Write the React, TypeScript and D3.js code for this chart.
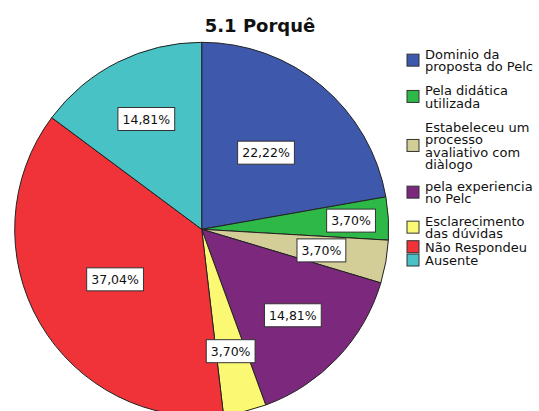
import React, { useEffect, useRef } from "react";
import * as d3 from "d3";

const title = "5.1 Porquê";
const categories = [
  "Dominio da proposta do Pelc",
  "Pela didática utilizada",
  "Estabeleceu um processo avaliativo com diàlogo",
  "pela experiencia no Pelc",
  "Esclarecimento das dúvidas",
  "Não Respondeu",
  "Ausente",
];
const legendLines = [
  ["Dominio da", "proposta do Pelc"],
  ["Pela didática", "utilizada"],
  ["Estabeleceu um", "processo", "avaliativo com", "diàlogo"],
  ["pela experiencia", "no Pelc"],
  ["Esclarecimento", "das dúvidas"],
  ["Não Respondeu"],
  ["Ausente"],
];
const percents = [22.22, 3.7, 3.7, 14.81, 3.7, 37.04, 14.81];
const colors = ["#3E58AC", "#2EB848", "#D3CE97", "#7C287D", "#FBF873", "#EF3338", "#48C2C5"];

// layout (styling) constants
const labelRadiusFrac = [0.535, 0.8, 0.65, 0.67, 0.67, 0.535, 0.66];
const legendFirstBaseline = [59, 95.3, 132, 191, 226, 251.7, 265];

const W = 539;
const H = 411;
const CX = 201.7;
const CY = 229.3;
const R = 187;
const FONT = "'DejaVu Sans', Verdana, sans-serif";

export default function App() {
  const ref = useRef<SVGSVGElement | null>(null);

  useEffect(() => {
    const svg = d3.select(ref.current);
    svg.selectAll("*").remove();

    svg
      .append("rect")
      .attr("width", W)
      .attr("height", H)
      .attr("fill", "#fff");

    svg
      .append("text")
      .attr("x", 260)
      .attr("y", 32)
      .attr("text-anchor", "middle")
      .attr("font-family", FONT)
      .attr("font-weight", "bold")
      .attr("font-size", 18)
      .attr("fill", "#111")
      .text(title);

    const data = categories.map((c, i) => ({ c, v: percents[i], i }));
    const pie = d3
      .pie<{ c: string; v: number; i: number }>()
      .sort(null)
      .value((d) => d.v);
    const arcs = pie(data);
    const arc = d3
      .arc<d3.PieArcDatum<{ c: string; v: number; i: number }>>()
      .innerRadius(0)
      .outerRadius(R);

    const g = svg.append("g").attr("transform", `translate(${CX},${CY})`);
    g.selectAll("path.slice")
      .data(arcs)
      .enter()
      .append("path")
      .attr("class", "slice")
      .attr("d", arc as any)
      .attr("fill", (d) => colors[d.data.i])
      .attr("stroke", "#222")
      .attr("stroke-width", 1)
      .attr("stroke-linejoin", "round");

    const fmt = d3.format(".2f");
    arcs.forEach((a) => {
      const mid = (a.startAngle + a.endAngle) / 2;
      const r = R * labelRadiusFrac[a.data.i];
      const x = r * Math.sin(mid);
      const y = -r * Math.cos(mid);
      const lg = g.append("g").attr("transform", `translate(${x},${y})`);
      const rect = lg.append("rect");
      const t = lg
        .append("text")
        .attr("text-anchor", "middle")
        .attr("dy", "0.36em")
        .attr("font-family", FONT)
        .attr("font-size", 12.5)
        .attr("fill", "#111")
        .text(fmt(a.data.v).replace(".", ",") + "%");
      const bb = (t.node() as SVGTextElement).getBBox();
      const bw = bb.width + 9;
      const bh = 23;
      rect
        .attr("x", -bw / 2)
        .attr("y", -bh / 2)
        .attr("width", bw)
        .attr("height", bh)
        .attr("fill", "#fff")
        .attr("stroke", "#333")
        .attr("stroke-width", 1);
    });

    const lineH = 12.3;
    const leg = svg.append("g");
    legendLines.forEach((lines, i) => {
      const fb = legendFirstBaseline[i];
      const lb = fb + (lines.length - 1) * lineH;
      const mid = (fb - 9 + lb) / 2;
      leg
        .append("rect")
        .attr("x", 407)
        .attr("y", mid - 6.5)
        .attr("width", 12)
        .attr("height", 12)
        .attr("fill", colors[i])
        .attr("stroke", "#333")
        .attr("stroke-width", 1);
      const t = leg
        .append("text")
        .attr("font-family", FONT)
        .attr("font-size", 13)
        .attr("fill", "#111");
      lines.forEach((ln, k) => {
        t.append("tspan")
          .attr("x", 425)
          .attr("y", fb + k * lineH)
          .text(ln);
      });
    });
  }, []);

  return (
    <svg
      ref={ref}
      width={W}
      height={H}
      style={{ position: "absolute", left: 0, top: 0, display: "block" }}
    />
  );
}
